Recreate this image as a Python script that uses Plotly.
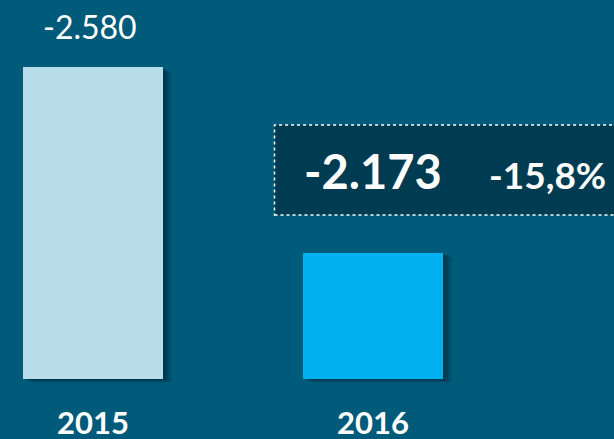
import plotly.graph_objects as go

years = ["2015", "2016"]
values = [2580, 2173]          # magnitudes of the (negative) results
value_labels = ["-2.580", "-2.173"]
change_label = "-15,8%"
bar_colors = ["#B7DDE8", "#00B0F0"]

BG = "#005A7A"
BOX_FILL = "#003C51"
AXIS_FLOOR = 1897            # truncated axis baseline
Y_RANGE = [1765.6, 2726.7]
X_RANGE = [-0.332, 1.861]
BAR_W = 0.5
PX_X = 280.0                  # pixels per category unit
PX_Y = 439 / (Y_RANGE[1] - Y_RANGE[0])

fig = go.Figure()

# soft drop shadows
for k, a in [(9, 0.10), (7, 0.14), (5, 0.18), (3, 0.22)]:
    fig.add_trace(go.Bar(
        x=years, y=[v - AXIS_FLOOR for v in values],
        base=AXIS_FLOOR - (k * 0.5) / PX_Y,
        width=BAR_W, offset=-BAR_W / 2 + k / PX_X,
        marker=dict(color=f"rgba(0,25,40,{a})", line=dict(width=0)),
        hoverinfo="skip", showlegend=False,
    ))

fig.add_trace(go.Bar(
    x=years, y=[v - AXIS_FLOOR for v in values], base=AXIS_FLOOR,
    width=BAR_W, offset=-BAR_W / 2,
    marker=dict(color=bar_colors, line=dict(width=0)),
    showlegend=False,
))

# label above 2015 bar
fig.add_annotation(x=0, y=values[0], text=value_labels[0],
                   showarrow=False, yanchor="bottom", yshift=19, xshift=-3,
                   font=dict(family="Lato", size=32, color="white"))

# highlighted box for 2016
fig.add_shape(type="rect", xref="paper", yref="paper",
              x0=274.5 / 614, x1=1.02, y0=1 - 215 / 439, y1=1 - 125 / 439,
              line=dict(color="white", width=1.5, dash="dot"),
              fillcolor=BOX_FILL, layer="above")
fig.add_annotation(x=1, xref="x", yref="paper", y=1 - 171 / 439,
                   text=f"<b>{value_labels[1]}</b>", showarrow=False,
                   xanchor="center", yanchor="middle",
                   font=dict(family="Lato", size=47, color="white"))
fig.add_annotation(x=547 / 614, xref="paper", yref="paper", y=1 - 174 / 439,
                   text=f"<b>{change_label}</b>", showarrow=False,
                   xanchor="center", yanchor="middle",
                   font=dict(family="Lato", size=37, color="white"))

# year labels
for i, yr in enumerate(years):
    fig.add_annotation(x=i, xref="x", yref="paper", y=1 - 422 / 439,
                       text=f"<b>{yr}</b>", showarrow=False,
                       xanchor="center", yanchor="middle",
                       font=dict(family="Lato", size=31, color="white"))

fig.update_layout(
    width=614, height=439,
    margin=dict(l=0, r=0, t=0, b=0),
    paper_bgcolor=BG, plot_bgcolor=BG,
    barmode="overlay", bargap=0,
    xaxis=dict(type="category", range=X_RANGE, visible=False, fixedrange=True),
    yaxis=dict(range=Y_RANGE, visible=False, fixedrange=True),
)

fig.write_html(
    "out.html",
    config={"displayModeBar": False},
    post_script="document.body.style.margin='0';document.body.style.background='%s';" % BG,
)
